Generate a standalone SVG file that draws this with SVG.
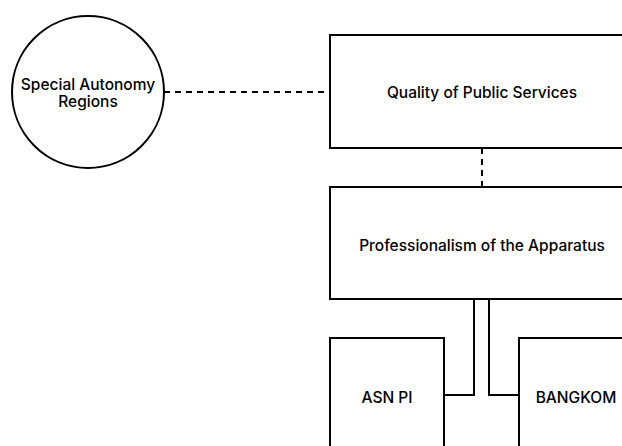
<svg xmlns="http://www.w3.org/2000/svg" width="622" height="446" viewBox="0 0 622 446">
<style>
.n{fill:#fff;stroke:#000;stroke-width:2}
.t{font-family:Inter,"Liberation Sans",sans-serif;font-size:15.5px;font-weight:500;fill:#000;text-anchor:middle;dominant-baseline:central}
.c{fill:none;stroke:#000;stroke-width:2}
.d{stroke-dasharray:6 5}
</style>
<rect width="622" height="446" fill="#fff"/>
<g id="connectors">
<path class="c d" d="M164 92H330"/>
<path class="c d" d="M482 148V187"/>
<path class="c" d="M474 299V395H444"/>
<path class="c" d="M489 299V395H519"/>
</g>
<g id="special-autonomy">
<circle class="n" cx="88" cy="92" r="76"/>
<text class="t" x="88" y="84.5">Special Autonomy</text>
<text class="t" x="88" y="101">Regions</text>
</g>
<g id="quality">
<rect class="n" x="330" y="35" width="304" height="113"/>
<text class="t" x="482" y="92.5">Quality of Public Services</text>
</g>
<g id="professionalism">
<rect class="n" x="330" y="187" width="304" height="112"/>
<text class="t" x="482" y="245">Professionalism of the Apparatus</text>
</g>
<g id="asn-pi">
<rect class="n" x="330" y="338" width="114" height="114"/>
<text class="t" x="387" y="397">ASN PI</text>
</g>
<g id="bangkom">
<rect class="n" x="519" y="338" width="114" height="114"/>
<text class="t" x="576" y="397">BANGKOM</text>
</g>
</svg>
